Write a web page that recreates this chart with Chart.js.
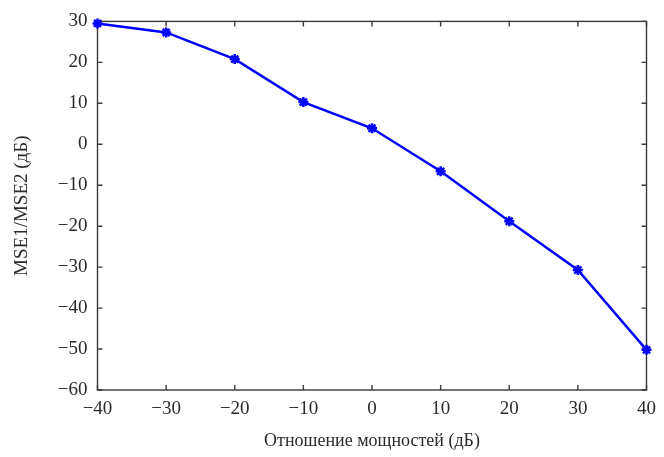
<!DOCTYPE html>
<html>
<head>
<meta charset="utf-8">
<script src="https://cdn.jsdelivr.net/npm/chart.js@4/dist/chart.umd.min.js"></script>
<style>
  html, body { margin: 0; padding: 0; background: #fff; }
  #wrap { width: 664px; height: 457px; }
</style>
</head>
<body>
<div id="wrap"><canvas id="lineChart"></canvas></div>
<script>
// power ratio (dB) vs MSE1/MSE2 (dB)
const ratioDb = [-40, -30, -20, -10, 0, 10, 20, 30, 40];
const mseRatio = [29.5, 27.3, 20.8, 10.3, 3.9, -6.6, -18.8, -30.7, -50.2];
const xTicks = [-40, -30, -20, -10, 0, 10, 20, 30, 40];
const yTicks = [-60, -50, -40, -30, -20, -10, 0, 10, 20, 30];

const axisColor = '#3a3a3a';
const textColor = '#2b2b2b';
const serif = "'Liberation Serif', 'Times New Roman', serif";

const minus = (v) => String(v).replace('-', '\u2212');

// closed frame with short inward ticks on all four sides
const boxTicks = {
  id: 'boxTicks',
  beforeDatasetsDraw(chart) {
    const { ctx, chartArea: a, scales } = chart;
    const len = 5;
    ctx.save();
    ctx.strokeStyle = axisColor;
    ctx.lineWidth = 1.4;
    ctx.strokeRect(a.left, a.top, a.right - a.left, a.bottom - a.top);
    ctx.beginPath();
    xTicks.forEach((t) => {
      const x = scales.x.getPixelForValue(t);
      ctx.moveTo(x, a.bottom); ctx.lineTo(x, a.bottom - len);
      ctx.moveTo(x, a.top); ctx.lineTo(x, a.top + len);
    });
    yTicks.forEach((t) => {
      const y = scales.y.getPixelForValue(t);
      ctx.moveTo(a.left, y); ctx.lineTo(a.left + len, y);
      ctx.moveTo(a.right, y); ctx.lineTo(a.right - len, y);
    });
    ctx.stroke();
    ctx.restore();
  },
};

const ctx = document.getElementById('lineChart');
const lineChart = new Chart(ctx, {
  type: 'line',
  data: {
    datasets: [{
      data: ratioDb.map((x, i) => ({ x: x, y: mseRatio[i] })),
      borderColor: '#0000ff',
      backgroundColor: '#0000ff',
      borderWidth: 2.5,
      pointStyle: 'star',
      pointRadius: 5,
      pointBorderWidth: 2.5,
      pointBorderColor: '#0000ff',
      tension: 0,
      clip: false,
    }],
  },
  options: {
    responsive: true,
    maintainAspectRatio: false,
    animation: false,
    layout: { padding: { top: 20, right: 12, left: 0, bottom: 0 } },
    plugins: {
      legend: { display: false },
      tooltip: { enabled: false },
    },
    scales: {
      x: {
        type: 'linear',
        min: -40,
        max: 40,
        afterBuildTicks: (scale) => { scale.ticks = xTicks.map((v) => ({ value: v })); },
        afterFit: (scale) => { scale.height = 67; },
        border: { display: false },
        grid: { display: false, drawTicks: false },
        ticks: {
          padding: 8,
          color: textColor,
          font: { family: serif, size: 19 },
          callback: (v) => minus(v),
          maxRotation: 0,
        },
        title: {
          display: true,
          text: 'Отношение мощностей (дБ)',
          color: textColor,
          font: { family: serif, size: 18 },
          padding: { top: 0, bottom: 5 },
        },
      },
      y: {
        min: -60,
        max: 30,
        afterBuildTicks: (scale) => { scale.ticks = yTicks.map((v) => ({ value: v })); },
        afterFit: (scale) => { scale.width = 97.5; },
        border: { display: false },
        grid: { display: false, drawTicks: false },
        ticks: {
          padding: 10,
          color: textColor,
          font: { family: serif, size: 19 },
          callback: (v) => minus(v),
        },
        title: {
          display: true,
          text: 'MSE1/MSE2 (дБ)',
          color: textColor,
          font: { family: serif, size: 19 },
          padding: { top: 11, bottom: 0 },
        },
      },
    },
  },
  plugins: [boxTicks],
});
</script>
</body>
</html>
